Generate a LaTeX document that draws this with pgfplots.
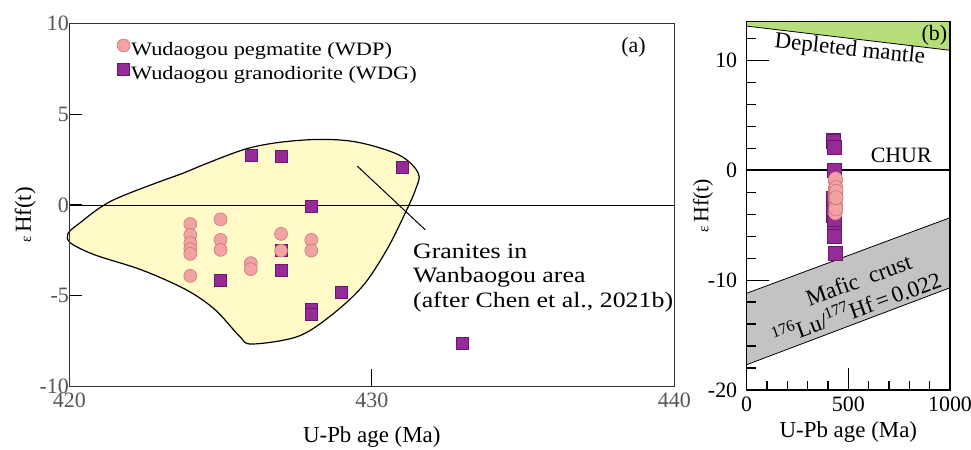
\documentclass[border=0pt]{standalone}
\usepackage{fontspec}
\setmainfont{Liberation Serif}
\newfontfamily\wfont[FakeStretch=1.18]{Liberation Serif}
\usepackage{pgfplots}
\usepackage{pgfplotstable}
\pgfplotsset{compat=1.18}

\definecolor{pinkfill}{RGB}{242,162,162}
\definecolor{pinkedge}{RGB}{196,112,112}
\definecolor{purp}{RGB}{150,42,150}
\definecolor{purpedge}{RGB}{105,25,105}
\definecolor{fieldyellow}{RGB}{255,250,200}
\definecolor{dmgreen}{RGB}{182,222,122}
\definecolor{crustgray}{RGB}{195,195,195}
\definecolor{tickgray}{RGB}{85,85,85}

\pgfplotstableread{
age ehf
424 -1.05
424 -1.65
424 -2.10
424 -2.43
424 -2.69
424 -3.90
425 -0.79
425 -1.92
425 -2.47
426 -3.20
426 -3.53
427 -1.59
427 -2.51
428 -1.92
428 -2.51
}\wdp

\pgfplotstableread{
age ehf
426 2.75
427 2.66
431 2.07
428 -0.04
425 -4.12
427 -3.57
427 -2.51
429 -4.78
428 -5.73
428 -5.99
433 -7.60
}\wdg

\pgfplotsset{
  wdpstyle/.style={only marks, mark=*, mark size=6.5bp, mark options={fill=pinkfill, draw=pinkedge, line width=0.5pt}},
  wdgstyle/.style={only marks, mark=square*, mark size=6bp, mark options={fill=purp, draw=purpedge, line width=0.4pt}},
}

\begin{document}
\begin{tikzpicture}
\useasboundingbox (0,0) rectangle (971bp,450bp);
% ---------------- panel (a)
\begin{axis}[
  at={(69.3bp,63.3bp)}, anchor=south west,
  scale only axis, width=605bp, height=363.4bp,
  xmin=420, xmax=440, ymin=-10, ymax=10,
  xtick={420,430,440}, ytick={-10,-5,0,5,10},
  tick align=inside, xtick pos=left, ytick pos=left,
  major tick length=13bp,
  tick style={draw=black, line width=1.1pt},
  xtick style={draw=none},
  axis line style={line width=1.4pt, black!80},
  axis on top,
  /pgf/number format/assume math mode=true,
  ticklabel style={font=\fontsize{22}{22}\selectfont, text=tickgray},
  yticklabel style={xshift=3bp},
  xticklabel style={yshift=-3bp},
  xlabel={U-Pb age (Ma)},
  ylabel={{\fontsize{15}{15}\selectfont ε}\,Hf(t)},
  xlabel style={font=\fontsize{23}{23}\selectfont, at={(axis description cs:0.5,-0.138)}, anchor=center},
  ylabel style={font=\fontsize{23}{23}\selectfont, at={(axis description cs:-0.073,0.4725)}, anchor=center},
  clip=false,
  legend style={draw=none, fill=none, at={(axis description cs:0.079,0.957)}, anchor=north west,
    inner sep=0pt, outer sep=0pt, row sep=3bp,
    font=\wfont\fontsize{19}{19}\selectfont,
    nodes={inner sep=1bp, text height=14bp, text depth=4bp},
    /tikz/every even column/.append style={column sep=3bp}},
  legend cell align=left,
  legend image code/.code={\draw[#1] plot coordinates {(0bp,5bp)};},
]
\addplot[fill=fieldyellow, draw=black, line width=1.2pt, smooth, tension=0.55, forget plot] coordinates {
(423.75,1.74) (425.91,3.12) (427.80,3.58) (429.41,3.49) (430.90,2.75) (431.54,1.74)
(431.44,0.83) (431.10,-0.46) (430.49,-2.48) (429.68,-4.50) (428.60,-6.15) (427.53,-7.25)
(426.04,-7.65) (425.64,-7.25) (424.83,-5.78) (423.88,-4.68) (422.40,-3.58) (420.85,-2.75)
(420.05,-2.1) (419.95,-1.6) (420.3,-1.05) (421.46,0.28) (423.75,1.74)};
\addplot[black, line width=0.9pt, forget plot] coordinates {(420,0) (440,0)};
\addplot[black, line width=1pt, forget plot] coordinates {(429.52,2.14) (431.77,-1.37)};
\addplot[black, line width=1.1pt, forget plot] coordinates {(430,-10) (430,-9.0)};
\addplot[wdgstyle, forget plot] table[x=age, y=ehf] {\wdg};
\addplot[wdpstyle, forget plot] table[x=age, y=ehf] {\wdp};
\addlegendimage{wdpstyle}
\addlegendentry{Wudaogou pegmatite (WDP)}
\addlegendimage{wdgstyle}
\addlegendentry{Wudaogou granodiorite (WDG)}
\node[font=\wfont\fontsize{22}{25}\selectfont, align=left, anchor=west, inner sep=0pt] at (axis cs:431.36,-4.02) {Granites in\\Wanbaogou area\\(after Chen et al., 2021b)};
\node[font=\fontsize{22}{22}\selectfont] at (axis cs:438.65,8.71) {(a)};
\end{axis}
% ---------------- panel (b)
\begin{axis}[
  at={(746.7bp,60bp)}, anchor=south west,
  scale only axis, width=203.3bp, height=368.3bp,
  xmin=0, xmax=1000, ymin=-20, ymax=13.5,
  xtick={0,500,1000}, ytick={-20,-10,0,10},
  minor xtick={100,200,300,400,600,700,800,900},
  minor ytick={-18,-16,-14,-12,-8,-6,-4,-2,2,4,6,8,12},
  tick align=inside, xtick pos=left, ytick pos=left,
  major tick length=22bp, minor tick length=9bp,
  tick style={draw=black, line width=1.1pt},
  axis line style={line width=1.4pt, black},
  axis on top,
  /pgf/number format/assume math mode=true,
  /pgf/number format/1000 sep={},
  ticklabel style={font=\fontsize{22}{22}\selectfont},
  yticklabel style={xshift=-6bp},
  xticklabel style={yshift=-3bp},
  xlabel={U-Pb age (Ma)},
  ylabel={{\fontsize{15}{15}\selectfont ε}\,Hf(t)},
  xlabel style={font=\fontsize{23}{23}\selectfont, at={(axis description cs:0.5,-0.114)}, anchor=center},
  ylabel style={font=\fontsize{22}{22}\selectfont, at={(axis description cs:-0.215,0.50)}, anchor=center},
]
\addplot[fill=dmgreen, draw=none] coordinates {(0,13.1) (1000,10.9) (1000,13.5) (0,13.5)} -- cycle;
\addplot[black, line width=0.8pt] coordinates {(0,13.1) (1000,10.9)};
\addplot[fill=crustgray, draw=none] coordinates {(0,-11.2) (1000,-4.33) (1000,-10.7) (0,-17.7)} -- cycle;
\addplot[black, line width=0.8pt] coordinates {(0,-11.2) (1000,-4.33)};
\addplot[black, line width=0.8pt] coordinates {(0,-17.7) (1000,-10.7)};
\addplot[black, line width=2.6pt] coordinates {(0,0) (1000,0)};
\addplot[wdgstyle, mark size=7bp] table[x=age, y=ehf] {\wdg};
\addplot[wdpstyle, mark size=7bp] table[x expr=\thisrow{age}+12, y=ehf] {\wdp};
\node[font=\fontsize{23}{23}\selectfont, rotate=-6] at (axis cs:507,10.9) {Depleted mantle};
\node[font=\fontsize{22}{22}\selectfont] at (axis cs:760,1.3) {CHUR};
\node[font=\fontsize{22}{22}\selectfont] at (axis cs:923,12.3) {(b)};
\node[font=\fontsize{23}{27}\selectfont, rotate=20, align=center, inner sep=0pt] at (axis cs:520,-11.5) {\hspace*{1em}Mafic\ \ crust\\\textsuperscript{176}Lu/\textsuperscript{177}Hf\,=\,0.022};
\end{axis}
\end{tikzpicture}
\end{document}
